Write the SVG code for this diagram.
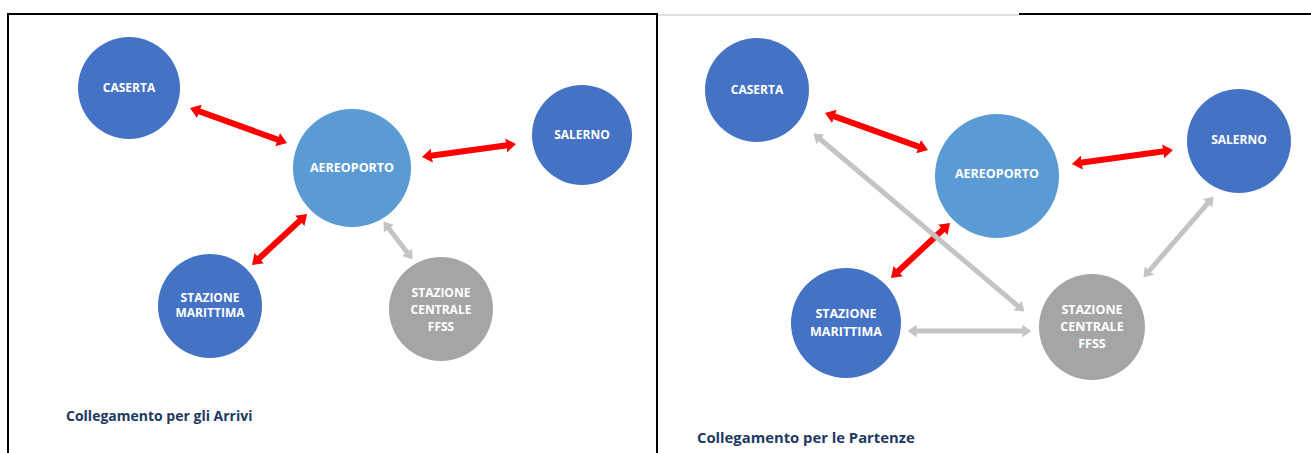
<svg xmlns="http://www.w3.org/2000/svg" width="1311" height="453" viewBox="0 0 1311 453">
<style>
.dk{fill:#4472c4}
.lt{fill:#5b9bd5}
.gy{fill:#a5a5a5}
.lbl{font-family:"Open Sans","Liberation Sans",sans-serif;font-weight:bold;font-size:12px;fill:#ffffff;text-anchor:middle}
.big{font-size:12.5px}
.cap{font-family:"Open Sans","Liberation Sans",sans-serif;font-weight:bold;fill:#203864}
.red{stroke:#ff0000;stroke-width:6;fill:none;marker-start:url(#mr);marker-end:url(#mr)}
.gr{stroke:#c4c4c4;stroke-width:5;fill:none;marker-start:url(#mg);marker-end:url(#mg)}
.frame{stroke:#000;stroke-width:2;fill:none}
</style>
<defs>
<marker id="mr" viewBox="0 0 10 14" refX="3" refY="7" markerWidth="10" markerHeight="14" markerUnits="userSpaceOnUse" orient="auto-start-reverse"><path d="M0,0 L10,7 L0,14 z" fill="#ff0000"/></marker>
<marker id="mg" viewBox="0 0 10 14" refX="3" refY="7" markerWidth="9" markerHeight="12.6" markerUnits="userSpaceOnUse" orient="auto-start-reverse"><path d="M0,0 L10,7 L0,14 z" fill="#c4c4c4"/></marker>
</defs>
<rect width="1311" height="453" fill="#ffffff"/>
<g id="frames">
<line class="frame" x1="7" y1="14" x2="658" y2="14"/>
<line class="frame" x1="8" y1="13" x2="8" y2="453"/>
<line class="frame" x1="657" y1="13" x2="657" y2="453"/>
<line x1="658" y1="15" x2="1019" y2="15" stroke="#c0c0c0" stroke-width="1"/>
<line class="frame" x1="1019" y1="14" x2="1311" y2="14"/>
</g>
<g id="connectors">
<line class="red" x1="196.6" y1="110.4" x2="280.4" y2="140.6"/>
<line class="red" x1="428.9" y1="156" x2="509.1" y2="145"/>
<line class="red" x1="301.9" y1="218.8" x2="257.1" y2="260.2"/>
<line class="gr" x1="387.3" y1="226.6" x2="408.7" y2="254.4"/>
<line class="red" x1="831.6" y1="115.4" x2="921.4" y2="147.6"/>
<line class="red" x1="1078.9" y1="163" x2="1166.1" y2="151"/>
<line class="red" x1="944.9" y1="227.8" x2="896.1" y2="273.2"/>
<line class="gr" x1="818.3" y1="137.5" x2="1019.7" y2="307.5"/>
<line class="gr" x1="1209.4" y1="201.3" x2="1147.6" y2="272.7"/>
<line class="gr" x1="914" y1="331" x2="1025" y2="331"/>
</g>
<g id="l-caserta"><circle class="dk" cx="129" cy="88" r="51"/><text class="lbl" x="129" y="92">CASERTA</text></g>
<g id="l-aeroporto"><circle class="lt" cx="352" cy="168" r="59"/><text class="lbl big" x="352" y="172">AEREOPORTO</text></g>
<g id="l-salerno"><circle class="dk" cx="582" cy="135" r="50"/><text class="lbl" x="582" y="139">SALERNO</text></g>
<g id="l-marittima"><circle class="dk" cx="210" cy="306" r="52"/><text class="lbl" x="210" y="302">STAZIONE</text><text class="lbl" x="210" y="317">MARITTIMA</text></g>
<g id="l-centrale"><circle class="gy" cx="441" cy="309" r="52"/><text class="lbl" x="441" y="297">STAZIONE</text><text class="lbl" x="441" y="314">CENTRALE</text><text class="lbl" x="441" y="331">FFSS</text></g>
<g id="r-caserta"><circle class="dk" cx="757" cy="90" r="52"/><text class="lbl" x="757" y="94">CASERTA</text></g>
<g id="r-aeroporto"><circle class="lt" cx="997" cy="176" r="62"/><text class="lbl big" x="997" y="178">AEREOPORTO</text></g>
<g id="r-salerno"><circle class="dk" cx="1239" cy="141" r="52"/><text class="lbl" x="1239" y="144">SALERNO</text></g>
<g id="r-marittima"><circle class="dk" cx="846" cy="323" r="55"/><text class="lbl big" x="846" y="318">STAZIONE</text><text class="lbl big" x="846" y="336">MARITTIMA</text></g>
<g id="r-centrale"><circle class="gy" cx="1092" cy="327" r="53"/><text class="lbl big" x="1092" y="314">STAZIONE</text><text class="lbl big" x="1092" y="331">CENTRALE</text><text class="lbl big" x="1092" y="348">FFSS</text></g>
<g id="captions">
<text class="cap" x="66" y="421" font-size="14">Collegamento per gli Arrivi</text>
<text class="cap" x="697" y="443" font-size="14.8">Collegamento per le Partenze</text>
</g>
</svg>
